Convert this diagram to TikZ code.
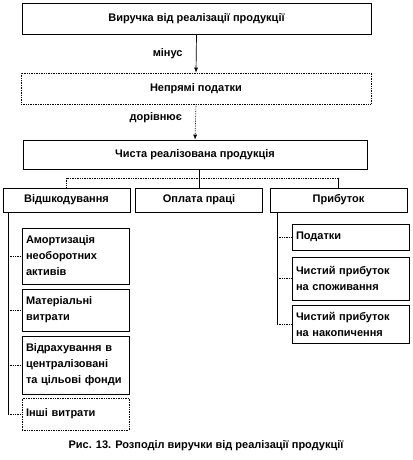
\documentclass[tikz,border=0pt]{standalone}
\usepackage{fontspec}
\setmainfont{Liberation Sans}
\usetikzlibrary{arrows.meta}
\begin{document}
\begin{tikzpicture}[x=1pt, y=-1pt, line width=0.7pt,
  every node/.style={font=\fontsize{11}{16}\selectfont\bfseries},
  box/.style={draw, inner sep=0pt, align=center},
  subbox/.style={draw, inner xsep=4pt, inner ysep=0pt, align=left},
  arr/.style={-{Latex[length=5pt,width=4pt]}}]
\useasboundingbox (0,0) rectangle (412,460);
% main chain
\node[box, minimum width=349pt, minimum height=31pt] (viruchka) at (196.5,18.5) {Виручка від реалізації продукції};
\node[box, densely dotted, minimum width=350pt, minimum height=31pt] (nepryami) at (196,88.5) {Непрямі податки};
\node[box, minimum width=344pt, minimum height=29pt] (chysta) at (195,154.5) {Чиста реалізована продукція};
\draw[arr] (viruchka.south) -- (nepryami.north) node[pos=0.5, left=10pt] {мінус};
\draw[arr, densely dotted] (nepryami.south) -- (chysta.north) node[pos=0.38, left=10pt] {дорівнює};
% three parts
\node[box, minimum width=127pt, minimum height=24pt] (vidshk) at (66.5,200) {Відшкодування};
\node[box, minimum width=127pt, minimum height=24pt] (oplata) at (199,200) {Оплата праці};
\node[box, minimum width=137pt, minimum height=24pt] (prybutok) at (338.5,200) {Прибуток};
\coordinate (t) at (0,178);
\draw (oplata.north |- chysta.south) -- (oplata.north);
\draw[densely dotted] (vidshk.north |- t) -- (prybutok.north |- t);
\draw[densely dotted] (vidshk.north |- t) -- (vidshk.north);
\draw (prybutok.north |- t) -- (prybutok.north);
% costs
\node[subbox, text width=99pt, minimum height=56pt] (amort) at (75.5,256) {Амортизація\\необоротних\\активів};
\node[subbox, text width=99pt, minimum height=42pt] (mater) at (75.5,310) {Матеріальні\\витрати};
\node[subbox, text width=99pt, minimum height=58pt] (vidrakh) at (75.5,365) {Відрахування в\\централізовані\\та цільові фонди};
\node[subbox, densely dotted, text width=99pt, minimum height=32pt] (inshi) at (75.5,414) {Інші витрати};
\coordinate (lv) at (8,0);
\draw (vidshk.south -| lv) -- (inshi.west -| lv);
\foreach \n in {amort, mater, vidrakh, inshi}
  \draw[densely dotted] (\n.west -| lv) -- (\n.west);
% profit
\node[subbox, text width=109pt, minimum height=26pt] (podatky) at (350.5,237) {Податки};
\node[subbox, text width=109pt, minimum height=43pt] (spozh) at (350.5,278.5) {Чистий прибуток\\на споживання};
\node[subbox, text width=109pt, minimum height=38pt] (nakop) at (350.5,324) {Чистий прибуток\\на накопичення};
\coordinate (rv) at (277,0);
\draw (prybutok.south -| rv) -- (nakop.west -| rv);
\foreach \n in {podatky, spozh, nakop}
  \draw[densely dotted] (\n.west -| rv) -- (\n.west);
% caption
\node (caption) at (206,446) {Рис. 13. Розподіл виручки від реалізації продукції};
\end{tikzpicture}
\end{document}
